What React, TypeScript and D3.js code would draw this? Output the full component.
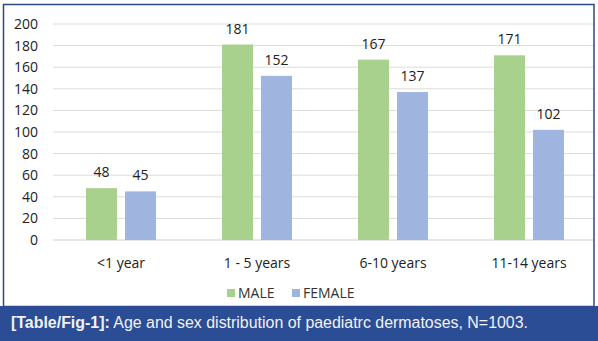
import React from "react";
import * as d3 from "d3";

const categories = ["<1 year", "1 - 5 years", "6-10 years", "11-14 years"];
const seriesNames = ["MALE", "FEMALE"];
const maleValues = [48, 181, 167, 171];
const femaleValues = [45, 152, 137, 102];
const yTicks = [0, 20, 40, 60, 80, 100, 120, 140, 160, 180, 200];
const captionBold = "[Table/Fig-1]:";
const captionText = " Age and sex distribution of paediatrc dermatoses, N=1003.";

const W = 598;
const H = 341;
const colors: Record<string, string> = { MALE: "#a9d18e", FEMALE: "#9fb5df" };
const FONT = "'Open Sans', sans-serif";

export default function App() {
  const y = d3.scaleLinear().domain([0, 200]).range([240, 24]);
  const x0 = d3.scaleBand<string>().domain(categories).range([53, 597]).padding(0);
  const x1 = d3
    .scaleBand<string>()
    .domain(seriesNames)
    .range([0, x0.bandwidth()])
    .paddingInner(8 / 39)
    .paddingOuter(0.846);
  const values: Record<string, number[]> = { MALE: maleValues, FEMALE: femaleValues };

  return (
    <svg width={W} height={H} style={{ position: "absolute", left: 0, top: 0, background: "#fff" }}>
      <rect x={0} y={0} width={W} height={H} fill="#fff" />
      {yTicks.map((t) => (
        <g key={t}>
          <line x1={53} x2={594} y1={y(t)} y2={y(t)} stroke={t === 0 ? "#cfcfcf" : "#dcdcdc"} strokeWidth={1} />
          <text x={38} y={y(t)} dy="0.36em" textAnchor="end" fontFamily={FONT} fontSize={14} fill="#222">
            {t}
          </text>
        </g>
      ))}
      {categories.map((c, i) => (
        <g key={c} transform={`translate(${x0(c)},0)`}>
          {seriesNames.map((s) => {
            const v = values[s][i];
            const bx = x1(s)!;
            return (
              <g key={s}>
                <rect x={bx} y={y(v)} width={x1.bandwidth()} height={y(0) - y(v)} fill={colors[s]} />
                <text
                  x={bx + x1.bandwidth() / 2}
                  y={y(v) - 11}
                  textAnchor="middle"
                  fontFamily={FONT}
                  fontSize={14}
                  fill="#222"
                >
                  {v}
                </text>
              </g>
            );
          })}
          <text x={x0.bandwidth() / 2} y={268} textAnchor="middle" fontFamily={FONT} fontSize={14} fill="#222">
            {c}
          </text>
        </g>
      ))}
      {/* legend */}
      <rect x={227} y={289} width={8} height={8} fill={colors.MALE} />
      <text x={238} y={298} fontFamily={FONT} fontSize={14} fill="#333">
        MALE
      </text>
      <rect x={292} y={289} width={8} height={8} fill={colors.FEMALE} />
      <text x={303} y={298} fontFamily={FONT} fontSize={14} fill="#333">
        FEMALE
      </text>
      {/* frame */}
      <rect x={3.5} y={4.5} width={590.5} height={302} fill="none" stroke="#2b4a7e" strokeWidth={1.5} />
      {/* caption bar */}
      <rect x={0} y={306} width={W} height={H - 306} fill="#2a4d96" />
      <text
        x={11}
        y={328}
        fontFamily="'Liberation Sans', Arial, sans-serif"
        fontSize={16}
        fill="#f2f2f2"
        textLength={517}
        lengthAdjust="spacingAndGlyphs"
      >
        <tspan fontWeight="bold">{captionBold}</tspan>
        <tspan>{captionText}</tspan>
      </text>
    </svg>
  );
}
